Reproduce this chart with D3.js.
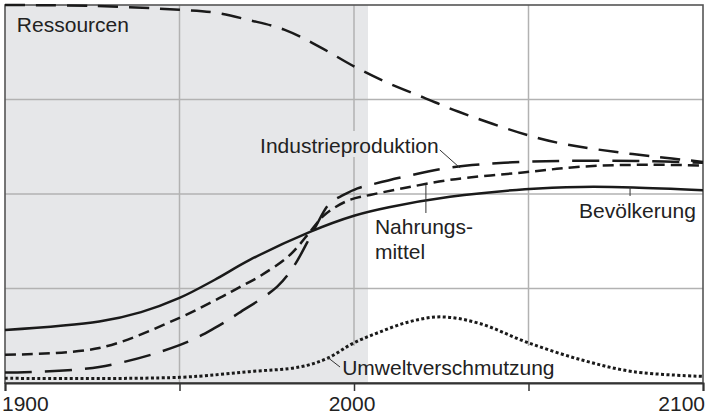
<!DOCTYPE html>
<html>
<head>
<meta charset="utf-8">
<script src="https://cdn.jsdelivr.net/npm/d3@7"></script>
<style>
  body { margin: 0; background: #fff; }
  svg { display: block; font-family: "Liberation Sans", Arial, Helvetica, sans-serif; }
</style>
</head>
<body>
<svg id="chart" width="711" height="420"></svg>
<script>
// --- data (year, value on a 0..4 scale) ---
const xTicks = [1900, 1950, 2000, 2050, 2100];
const xTickLabels = [1900, 2000, 2100];
const yGrid = [1, 2, 3];
const historyEnd = 2004;

const ressourcen = [
    [1900, 4.00], [1925, 3.99], [1950, 3.95], [1960, 3.92], [1970, 3.84], [1980, 3.74],
    [1990, 3.56], [2000, 3.35], [2010, 3.17], [2020, 3.02], [2030, 2.87], [2050, 2.62],
    [2060, 2.53], [2070, 2.47], [2085, 2.40], [2100, 2.34]
];
const industrie = [
    [1900, 0.11], [1927, 0.17], [1950, 0.40], [1960, 0.58], [1967, 0.74], [1978, 1.02],
    [1983, 1.25], [1988.5, 1.62], [1993, 1.90], [1997, 1.99], [2001, 2.06], [2005, 2.10],
    [2014, 2.18], [2027.5, 2.28], [2043, 2.33], [2060, 2.35], [2082, 2.35], [2100, 2.33]
];
const nahrung = [
    [1900, 0.30], [1927, 0.37], [1950, 0.69], [1961.5, 0.90], [1967, 1.01], [1973, 1.13],
    [1981.5, 1.35], [1987.4, 1.60], [1991, 1.76], [1994.6, 1.86], [1999, 1.94], [2004.6, 1.99],
    [2014, 2.06], [2027.5, 2.15], [2049, 2.23], [2065.6, 2.29], [2085, 2.31], [2100, 2.30]
];
const bevoelkerung = [
    [1900, 0.56], [1927, 0.65], [1939, 0.75], [1950, 0.90], [1960, 1.09], [1970, 1.30],
    [1987.4, 1.60], [2000, 1.77], [2010, 1.86], [2027.5, 1.97], [2049, 2.05], [2065, 2.075],
    [2080, 2.07], [2100, 2.04]
];
const umwelt = [
    [1900, 0.05], [1950, 0.06], [1970, 0.12], [1984.5, 0.17], [1992.3, 0.26], [1999.7, 0.42],
    [2007.4, 0.54], [2016, 0.65], [2025, 0.70], [2036, 0.63], [2049.6, 0.43], [2065.6, 0.24],
    [2080, 0.12], [2100, 0.07]
];

const series = [
    { name: "Ressourcen", data: ressourcen, dash: "20,11", width: 2.5 },
    { name: "Industrieproduktion", data: industrie, dash: "27,13", width: 2.5 },
    { name: "Nahrungsmittel", data: nahrung, dash: "11,6", width: 2.5 },
    { name: "Bevölkerung", data: bevoelkerung, dash: null, width: 2.5 },
    { name: "Umweltverschmutzung", data: umwelt, dash: "3,2.4", width: 3 }
];

// labels: text lines, anchor year/value (baseline), leader line in year/value
const labels = [
    { lines: ["Ressourcen"], year: 1903.4, value: 3.714, leader: null },
    { lines: ["Industrieproduktion"], year: 1973.1, value: 2.434, mask: true,
      leader: [[2024.6, 2.466], [2030.4, 2.275]] },
    { lines: ["Nahrungs-", "mittel"], year: 2006.0, value: 1.577,
      leader: [[2020.6, 2.095], [2020.6, 1.799]] },
    { lines: ["Bevölkerung"], year: 2064.5, value: 1.746,
      leader: [[2079.1, 2.074], [2079.1, 1.979]] },
    { lines: ["Umweltverschmutzung"], year: 1996.6, value: 0.085, mask: true, maskToAxis: true,
      leader: [[1992.3, 0.275], [1996.0, 0.169]] }
];

// --- setup ---
const svg = d3.select("#chart");
const W = 711, H = 420;
const x = d3.scaleLinear().domain([1900, 2100]).range([5, 703]);
const y = d3.scaleLinear().domain([0, 4]).range([383, 5]);
const shade = "#e6e7e9";

const mask = svg.append("defs").append("mask").attr("id", "gridMask")
    .attr("maskUnits", "userSpaceOnUse").attr("x", 0).attr("y", 0).attr("width", W).attr("height", H);
mask.append("rect").attr("width", W).attr("height", H).attr("fill", "white");

// shaded history area
svg.append("rect")
    .attr("x", x(1900)).attr("y", y(4))
    .attr("width", x(historyEnd) - x(1900)).attr("height", y(0) - y(4))
    .attr("fill", shade);

// grid
const grid = svg.append("g").attr("class", "grid").attr("mask", "url(#gridMask)")
    .attr("stroke", "#b2b2b2").attr("stroke-width", 1.5);
grid.selectAll("line.v").data(xTicks.slice(1, -1)).enter().append("line").attr("class", "v")
    .attr("x1", d => x(d)).attr("x2", d => x(d)).attr("y1", y(4)).attr("y2", y(0));
grid.selectAll("line.h").data(yGrid).enter().append("line").attr("class", "h")
    .attr("x1", x(1900)).attr("x2", x(2100)).attr("y1", d => y(d)).attr("y2", d => y(d));

// frame
svg.append("rect")
    .attr("x", x(1900)).attr("y", y(4))
    .attr("width", x(2100) - x(1900)).attr("height", y(0) - y(4))
    .attr("fill", "none").attr("stroke", "#555").attr("stroke-width", 1.6);

// x axis
const xAxis = d3.axisBottom(x).tickValues(xTicks).tickSize(8).tickFormat("");
const axisG = svg.append("g").attr("transform", `translate(0,${y(0)})`).call(xAxis);
axisG.select(".domain").attr("stroke", "#333").attr("stroke-width", 2);
axisG.selectAll(".tick line").attr("stroke", "#333").attr("stroke-width", 1.5);

svg.append("g").selectAll("text").data(xTickLabels).enter().append("text")
    .attr("x", (d, i) => i === 0 ? x(d) - 3 : (i === xTickLabels.length - 1 ? x(d) + 2 : x(d) - 2))
    .attr("y", 411)
    .attr("text-anchor", (d, i) => i === 0 ? "start" : (i === xTickLabels.length - 1 ? "end" : "middle"))
    .attr("font-size", 21).attr("fill", "#222")
    .text(d => d);

// curves
const line = d3.line().x(d => x(d[0])).y(d => y(d[1])).curve(d3.curveCatmullRom.alpha(0.5));
svg.append("g").attr("class", "curves").selectAll("path").data(series).enter().append("path")
    .attr("d", d => line(d.data))
    .attr("fill", "none").attr("stroke", "#1a1a1a")
    .attr("stroke-width", d => d.width)
    .attr("stroke-dasharray", d => d.dash);

// labels
const lab = svg.append("g").attr("class", "labels");
labels.forEach(l => {
    const t = lab.append("text")
        .attr("x", x(l.year)).attr("y", y(l.value))
        .attr("font-size", 21).attr("fill", "#222");
    l.lines.forEach((s, i) => {
        t.append("tspan").attr("x", x(l.year)).attr("dy", i === 0 ? 0 : 25).text(s);
    });
    if (l.leader) {
        lab.append("line")
            .attr("x1", x(l.leader[0][0])).attr("y1", y(l.leader[0][1]))
            .attr("x2", x(l.leader[1][0])).attr("y2", y(l.leader[1][1]))
            .attr("stroke", "#333").attr("stroke-width", 1);
    }
    if (l.mask) {
        const b = t.node().getBBox();
        const top = l.maskToAxis ? b.y - 10 : b.y - 3;
        const bottom = l.maskToAxis ? y(0) : b.y + b.height;
        mask.append("rect")
            .attr("x", b.x - 3).attr("y", top)
            .attr("width", b.width + 6).attr("height", bottom - top)
            .attr("fill", "black");
    }
});
</script>
</body>
</html>
